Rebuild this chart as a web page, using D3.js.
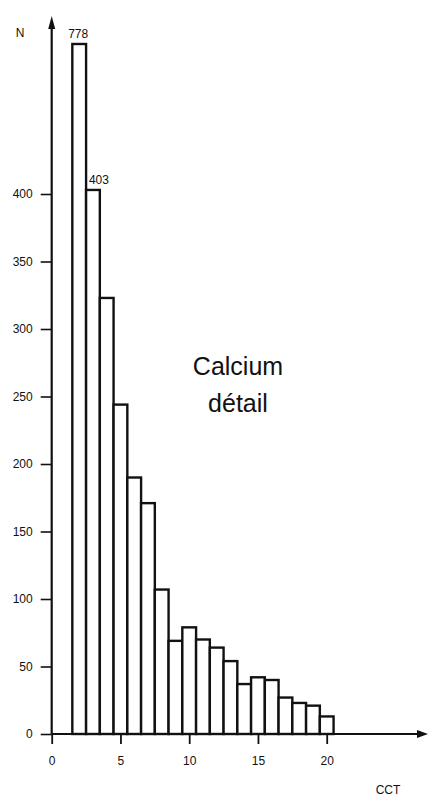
<!DOCTYPE html>
<html>
<head>
<meta charset="utf-8">
<script src="https://cdn.jsdelivr.net/npm/d3@7"></script>
<style>
  html, body { margin: 0; padding: 0; background: #fff; }
  svg { display: block; }
  text { font-family: "Liberation Sans", Arial, sans-serif; fill: #111; }
</style>
</head>
<body>
<svg id="chart" width="428" height="800"></svg>
<script>
// Histogram of CCT values (calcium detail)
const cctValues = [2, 3, 4, 5, 6, 7, 8, 9, 10, 11, 12, 13, 14, 15, 16, 17, 18, 19, 20];
const counts    = [778, 403, 323, 244, 190, 171, 107, 69, 79, 70, 64, 54, 37, 42, 40, 27, 23, 21, 13];
const labelledValues = [778, 403];
const yTicks = [0, 50, 100, 150, 200, 250, 300, 350, 400];
const xTicks = [0, 5, 10, 15, 20];
const titleLines = ["Calcium", "détail"];
const yAxisTitle = "N";
const xAxisTitle = "CCT";

const ink = "#111";
const svg = d3.select("#chart");

const x = d3.scaleLinear().domain([0, 20]).range([51.7, 326.7]);
// broken vertical axis: linear up to 410, compressed above
const y = d3.scaleLinear().domain([0, 410, 778]).range([734, 180.5, 44]);

// bars
svg.append("g")
  .selectAll("rect")
  .data(cctValues.map((c, i) => ({ c, n: counts[i] })))
  .join("rect")
  .attr("x", d => x(d.c - 0.5))
  .attr("y", d => y(d.n))
  .attr("width", d => x(d.c + 0.5) - x(d.c - 0.5))
  .attr("height", d => y(0) - y(d.n))
  .attr("fill", "#fff")
  .attr("stroke", ink)
  .attr("stroke-width", 2.4);

// value labels on the tallest bars
svg.append("g")
  .selectAll("text")
  .data(cctValues.map((c, i) => ({ c, n: counts[i] })).filter(d => labelledValues.includes(d.n)))
  .join("text")
  .attr("x", d => d.n === 778 ? x(d.c) - 1 : x(d.c) + 6)
  .attr("y", d => y(d.n) - 6)
  .attr("text-anchor", "middle")
  .attr("font-size", 12)
  .text(d => d.n);

// y axis ticks
const yAxis = svg.append("g")
  .attr("transform", `translate(${x(0)},0)`)
  .call(d3.axisLeft(y).tickValues(yTicks).tickSize(11).tickPadding(8).tickFormat(d3.format("d")));
yAxis.select(".domain").remove();
yAxis.selectAll(".tick line").attr("stroke", ink).attr("stroke-width", 1.6);
yAxis.selectAll(".tick text").attr("font-size", 12).attr("font-family", "Liberation Sans, Arial, sans-serif").attr("fill", ink);

// x axis ticks
const xAxis = svg.append("g")
  .attr("transform", `translate(0,${y(0)})`)
  .call(d3.axisBottom(x).tickValues(xTicks).tickSize(10).tickPadding(12));
xAxis.select(".domain").remove();
xAxis.selectAll(".tick line").attr("stroke", ink).attr("stroke-width", 1.8);
xAxis.selectAll(".tick text").attr("font-size", 12).attr("font-family", "Liberation Sans, Arial, sans-serif").attr("fill", ink);

// axis lines with arrowheads
const axes = svg.append("g");
axes.append("line")
  .attr("x1", x(0)).attr("x2", x(0))
  .attr("y1", y(0)).attr("y2", 26)
  .attr("stroke", ink).attr("stroke-width", 2.2);
axes.append("path")
  .attr("d", `M${x(0)},16 L${x(0) - 3.5},29 L${x(0) + 3.5},29 Z`)
  .attr("fill", ink);
axes.append("line")
  .attr("x1", x(0)).attr("x2", 420)
  .attr("y1", y(0)).attr("y2", y(0))
  .attr("stroke", ink).attr("stroke-width", 2.2);
axes.append("path")
  .attr("d", `M428,${y(0)} L417,${y(0) - 4} L417,${y(0) + 4} Z`)
  .attr("fill", ink);

// axis titles
svg.append("text").attr("x", 20).attr("y", 37).attr("text-anchor", "middle")
  .attr("font-size", 12).text(yAxisTitle);
svg.append("text").attr("x", 388).attr("y", 794).attr("text-anchor", "middle")
  .attr("font-size", 12).text(xAxisTitle);

// chart title
svg.append("g")
  .selectAll("text")
  .data(titleLines)
  .join("text")
  .attr("x", 238)
  .attr("y", (d, i) => 375 + i * 37)
  .attr("text-anchor", "middle")
  .attr("font-size", 25)
  .text(d => d);
</script>
</body>
</html>
